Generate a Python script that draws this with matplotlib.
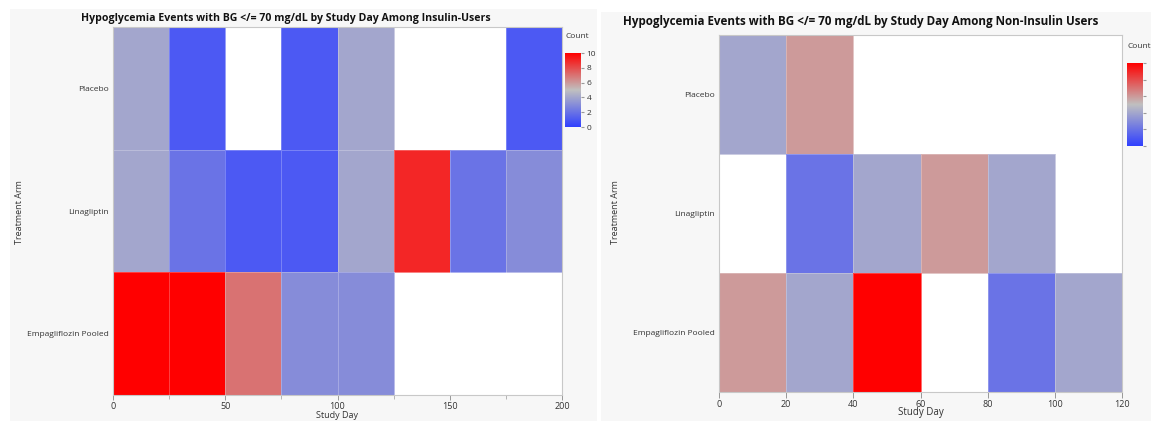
import numpy as np
import matplotlib
matplotlib.use("Agg")
import matplotlib.pyplot as plt
from matplotlib.colors import LinearSegmentedColormap
from matplotlib.patches import Rectangle

plt.rcParams['font.family'] = ['Open Sans', 'DejaVu Sans']

arms = ["Placebo", "Linagliptin", "Empagliflozin Pooled"]

# insulin users, bins of 25 study days (0-200)
ins_edges = [0, 25, 50, 75, 100, 125, 150, 175, 200]
ins_placebo = [4, 1, np.nan, 1, 4, np.nan, np.nan, 1]
ins_lina = [4, 2, 1, 1, 4, 9, 2, 3]
ins_empa = [10, 10, 7, 3, 3, np.nan, np.nan, np.nan]

# non-insulin users, bins of 20 study days (0-120)
non_edges = [0, 20, 40, 60, 80, 100, 120]
non_placebo = [4, 6, np.nan, np.nan, np.nan, np.nan]
non_lina = [np.nan, 2, 4, 6, 4, np.nan]
non_empa = [6, 4, 10, np.nan, 2, 4]

cmap = LinearSegmentedColormap.from_list("bgr", [(0, "#3040ff"), (0.5, "#c0c0c0"), (1, "#ff0000")])

W, H = 1151, 421
fig = plt.figure(figsize=(W / 100, H / 100), dpi=100)
fig.patch.set_facecolor("white")

def fx(px):
    return px / W

def fy(py):
    return 1 - py / H

# panel backgrounds
fig.patches.append(Rectangle((fx(10), 0), fx(587), fy(9), transform=fig.transFigure,
                             facecolor="#f7f7f7", edgecolor="none", zorder=-10))
fig.patches.append(Rectangle((fx(601), 0), fx(550), fy(12), transform=fig.transFigure,
                             facecolor="#f7f7f7", edgecolor="none", zorder=-10))

def panel(rect, edges, rows, title, title_xy, title_size, xticks, minor, cbar_rect, cbar_labels,
          count_xy, ylab_x, tick_len, tick_pad, lab_pad, lab_size):
    ax = fig.add_axes(rect)
    data = np.ma.masked_invalid(np.array(rows, dtype=float))
    ax.pcolormesh(edges, [0, 1, 2, 3], data, cmap=cmap, vmin=0, vmax=10,
                  edgecolor=(1, 1, 1, 0.25), linewidth=0.4)
    ax.set_facecolor("white")
    ax.set_xlim(edges[0], edges[-1])
    ax.set_ylim(3, 0)
    ax.set_yticks([0.5, 1.5, 2.5])
    ax.set_yticklabels(arms, fontsize=6, color="#333333")
    ax.tick_params(axis="y", length=0, pad=3)
    ax.set_xticks(xticks)
    if minor:
        ax.set_xticks(minor, minor=True)
    ax.tick_params(axis="x", labelsize=6.5, colors="#888888", length=tick_len, width=0.6,
                   labelcolor="#333333", pad=tick_pad)
    ax.tick_params(axis="x", which="minor", length=3, width=0.6, colors="#aaaaaa")
    for s in ax.spines.values():
        s.set_color("#c8c8c8")
        s.set_linewidth(0.8)
    ax.set_xlabel("Study Day", fontsize=lab_size, color="#333333", labelpad=lab_pad)
    fig.text(fx(ylab_x), fy(212), "Treatment Arm", rotation=90, fontsize=6.5, color="#333333",
             ha="center", va="center")
    fig.text(fx(title_xy[0]), fy(title_xy[1]), title, fontsize=title_size, fontweight="bold",
             ha="center", va="center", color="#111111")

    cax = fig.add_axes(cbar_rect)
    grad = np.linspace(0, 10, 256).reshape(-1, 1)
    cax.imshow(grad, aspect="auto", cmap=cmap, origin="lower", extent=[0, 1, 0, 10])
    cax.set_xticks([])
    cax.yaxis.tick_right()
    cax.set_yticks([0, 2, 4, 6, 8, 10])
    if cbar_labels:
        cax.tick_params(axis="y", labelsize=6, length=2, colors="#999999", labelcolor="#333333", pad=2)
    else:
        cax.set_yticklabels([])
        cax.tick_params(axis="y", length=2, colors="#999999")
    for s in cax.spines.values():
        s.set_visible(False)
    fig.text(fx(count_xy[0]), fy(count_xy[1]), "Count", fontsize=6, color="#333333", va="center")
    return ax

panel([fx(113), fy(395), fx(449), fy(27) - fy(395)], ins_edges,
      [ins_placebo, ins_lina, ins_empa],
      "Hypoglycemia Events with BG </= 70 mg/dL by Study Day Among Insulin-Users",
      (286, 18), 7.6, [0, 50, 100, 150, 200], [25, 75, 125, 175],
      [fx(565), fy(127), fx(16), fy(53) - fy(127)], True, (565, 37), 20, 3.5, 1.5, 0, 6.5)

panel([fx(719), fy(392), fx(403), fy(35) - fy(392)], non_edges,
      [non_placebo, non_lina, non_empa],
      "Hypoglycemia Events with BG </= 70 mg/dL by Study Day Among Non-Insulin Users",
      (861, 22), 8.4, [0, 20, 40, 60, 80, 100, 120], None,
      [fx(1127), fy(146), fx(16), fy(63) - fy(146)], False, (1127, 46), 615, 4, 1.5, -1, 7)

fig.savefig("out.png", dpi=100, facecolor=fig.get_facecolor())
